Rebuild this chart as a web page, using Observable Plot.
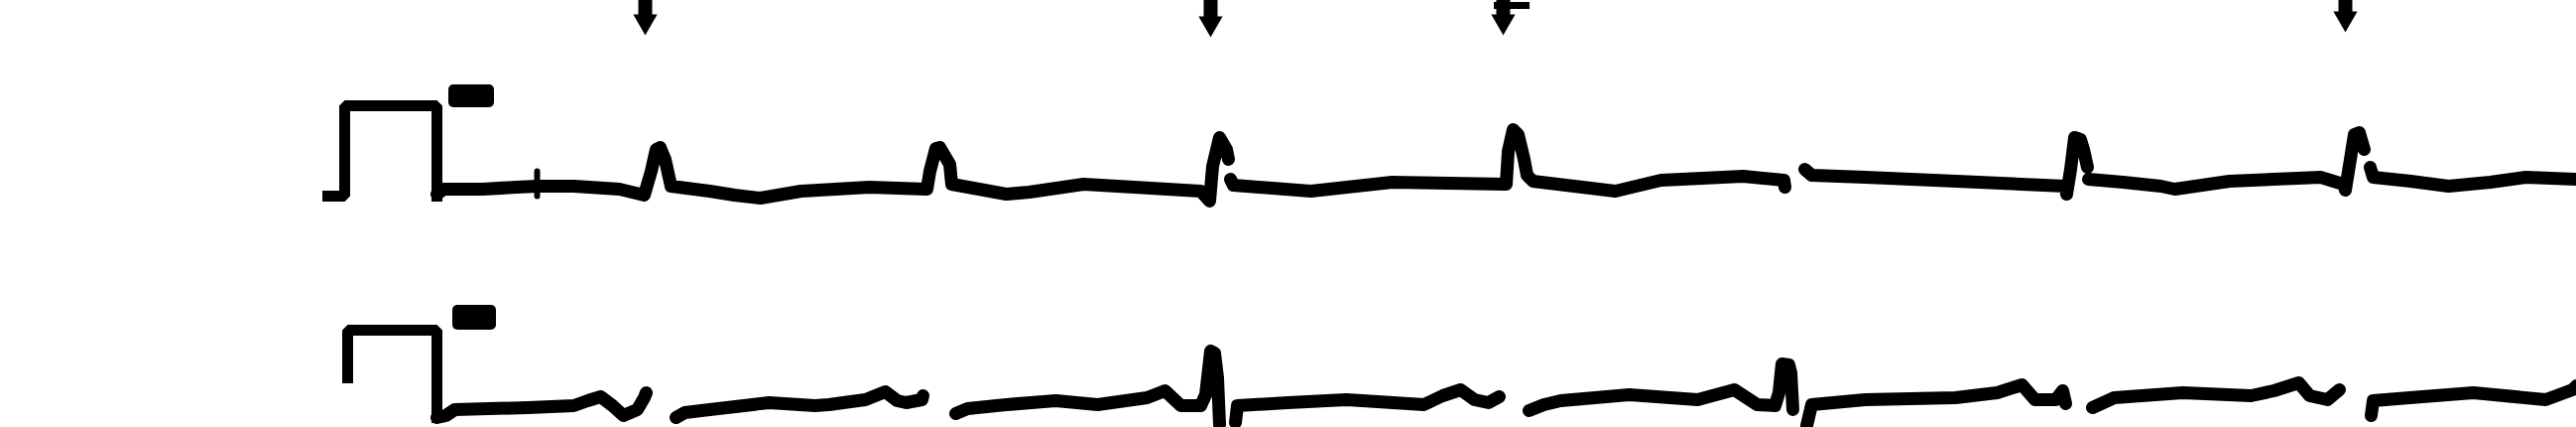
<!DOCTYPE html>
<html>
<head>
<meta charset="utf-8">
<script src="https://cdn.jsdelivr.net/npm/d3@7"></script>
<script src="https://cdn.jsdelivr.net/npm/@observablehq/plot@0.6"></script>
<style>
  html, body { margin: 0; padding: 0; background: #fff; overflow: hidden; }
  #chart svg { display: block; }
</style>
</head>
<body>
<div id="chart"></div>
<script>
// Trace positions read from the scanned strip: [time, deflection] pairs, per pen-lift segment.
const topSegments = [
  [[440,195],[447,190],[486,190],[520,188],[541,187],[578,187],[624,190],[649,196],[656,172],[661,150],[665,148],[670,160],[676,187],[715,192],[740,196],[766,199],[807,192],[876,188],[934,190],[937,172],[943,149],[947,148],[957,165],[959,185],[1014,195],[1037,193],[1092,185],[1160,189],[1210,192],[1219,202],[1222,167],[1229,138],[1236,150],[1238,160]],
  [[1240,180],[1243,186],[1321,192],[1403,183],[1518,185],[1520,152],[1525,130],[1530,135],[1536,160],[1539,176],[1545,182],[1628,192],[1674,181],[1757,177],[1798,181],[1799,188]],
  [[1819,170],[1826,176],[1880,178],[1972,182],[2082,187],[2083,195],[2087,170],[2091,138],[2097,140],[2100,150],[2104,168]],
  [[2105,180],[2140,183],[2178,187],[2192,190],[2247,182],[2339,178],[2362,185],[2364,191],[2369,160],[2373,135],[2378,133],[2383,150]],
  [[2389,168],[2392,178],[2430,182],[2468,187],[2510,183],[2546,178],[2597,180]]
];
const bottomSegments = [
  [[440,420],[449,418],[458,412],[532,410],[578,408],[592,403],[605,399],[617,408],[628,418],[642,412],[649,400],[651,395]],
  [[681,420],[690,415],[715,412],[775,405],[821,408],[835,407],[872,402],[892,394],[904,403],[913,405],[929,402],[930,398]],
  [[963,416],[975,411],[1014,407],[1064,403],[1106,407],[1156,400],[1174,393],[1190,408],[1210,408],[1215,397],[1220,353],[1224,355],[1227,380],[1229,427]],
  [[1245,425],[1247,408],[1298,405],[1357,402],[1435,407],[1454,398],[1472,392],[1486,402],[1500,405],[1511,399]],
  [[1541,413],[1556,407],[1573,403],[1642,397],[1711,402],[1748,392],[1771,407],[1789,408],[1793,395],[1796,366],[1803,367],[1805,375],[1807,412]],
  [[1821,428],[1826,407],[1880,402],[1971,400],[2013,395],[2038,387],[2051,402],[2072,402],[2079,393],[2082,406]],
  [[2109,410],[2131,400],[2200,395],[2269,398],[2292,393],[2317,385],[2328,398],[2346,402],[2358,392]],
  [[2390,418],[2392,403],[2429,400],[2493,395],[2566,402],[2593,392],[2597,388]]
];
// Calibration pulses (1 mV standardisation)
const calibration = [
  [[330,197],[347,197],[347,106],[440,106],[440,197]],
  [[350,380],[350,332],[440,332],[440,420]]
];
// Small artefact tick on top trace
const artefacts = [[[541,172],[541,197]]];
// Ink blobs beside each calibration pulse: [x1, x2, y1, y2]
const blobs = [[452,498,85,108],[456,500,307,332]];
// Timing marks along the top edge: [time, length]
const timeMarks = [[650,30],[1220,32],[1515,30],[2364,27]];
const markFlags = [[1506,1542,5]];

function toRows(segs, prefix) {
  const rows = [];
  segs.forEach((s, i) => s.forEach(([x, y]) => rows.push({x, y, seg: prefix + i})));
  return rows;
}
const traceRows = [...toRows(topSegments, "t"), ...toRows(bottomSegments, "b")];
const calRows = toRows(calibration, "c");
const artRows = toRows(artefacts, "a");
const blobRows = blobs.map(([x1, x2, y1, y2]) => ({x1, x2, y1, y2}));
const markRows = timeMarks.map(([x, len]) => ({x, y1: 0, y2: len - 10, tip: len - 9}));
const flagRows = markFlags.map(([x1, x2, y]) => ({x1, x2, y}));

const W = 2597, H = 430;
const chart = Plot.plot({
  width: W, height: H,
  margin: 0,
  style: {background: "#fff"},
  x: {domain: [0, W], range: [0, W], axis: null},
  y: {domain: [0, H], range: [0, H], axis: null},
  marks: [
    Plot.line(traceRows, {x: "x", y: "y", z: "seg", stroke: "#000", strokeWidth: 13, strokeLinejoin: "round", strokeLinecap: "round"}),
    Plot.line(calRows, {x: "x", y: "y", z: "seg", stroke: "#000", strokeWidth: 11, strokeLinejoin: "miter", strokeLinecap: "square"}),
    Plot.line(artRows, {x: "x", y: "y", z: "seg", stroke: "#000", strokeWidth: 6}),
    Plot.rect(blobRows, {x1: "x1", x2: "x2", y1: "y1", y2: "y2", fill: "#000", rx: 5}),
    Plot.ruleX(markRows, {x: "x", y1: "y1", y2: "y2", stroke: "#000", strokeWidth: 14, strokeLinecap: "butt"}),
    Plot.dot(markRows, {x: "x", y: "tip", symbol: "triangle", rotate: 180, r: 9, fill: "#000"}),
    Plot.ruleY(flagRows, {y: "y", x1: "x1", x2: "x2", stroke: "#000", strokeWidth: 7})
  ]
});
document.getElementById("chart").append(chart);
</script>
</body>
</html>
